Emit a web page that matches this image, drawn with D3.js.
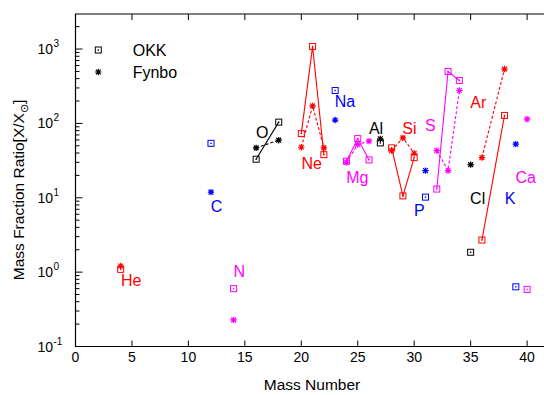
<!DOCTYPE html>
<html>
<head>
<meta charset="utf-8">
<script src="https://cdn.jsdelivr.net/npm/d3@7"></script>
<style>
  body { margin: 0; background: #fff; }
  svg { display: block; font-family: "Liberation Sans", Arial, sans-serif; }
</style>
</head>
<body>
<div id="chart"></div>
<script>
// elements: name, colour, mass numbers, OKK ratios, Fynbo ratios
const elements = ["He", "C", "N", "O", "Ne", "Na", "Mg", "Al", "Si", "P", "S", "Cl", "Ar", "K", "Ca"];
const colors   = ["red", "blue", "magenta", "black", "red", "blue", "magenta", "black", "red", "blue", "magenta", "black", "red", "blue", "magenta"];
const massNumbers = [[4], [12], [14], [16, 18], [20, 21, 22], [23], [24, 25, 26], [27], [28, 29, 30], [31], [32, 33, 34], [35], [36, 38], [39], [40]];
const okk   = [[1.09], [54], [0.60], [33, 104], [73, 1084, 38], [277], [31, 62.5, 32.3], [54.7], [46.9, 10.6, 34.7], [10.2], [13.1, 499, 378], [1.85], [2.7, 128], [0.635], [0.586]];
const fynbo = [[1.21], [11.9], [0.228], [46.9, 59.5], [47.8, 172, 46.9], [111], [30, 52, 57.7], [62], [43, 63.9, 39.7], [23.2], [43, 23.2, 277], [27.9], [34.7, 538], [52.6], [114]];
// where each element name sits (mass number, ratio)
const labelX = [4.93, 12.5, 14.5, 16.55, 20.92, 23.87, 24.96, 26.62, 29.57, 30.45, 31.43, 35.62, 35.68, 38.5, 39.87];
const labelY = [0.78, 7.8, 1.05, 77.6, 29.2, 200, 19.2, 88, 88, 6.86, 95.5, 9.84, 197, 9.84, 19.2];

const xTicks = [0, 5, 10, 15, 20, 25, 30, 35, 40, 45];
const yTicks = [-1, 0, 1, 2, 3];

const W = 544, H = 395;
const mLeft = 75.5, mTop = 14, mBottom = 346.5;

const svg = d3.select("#chart").append("svg")
    .attr("width", W)
    .attr("height", H);

const x = d3.scaleLinear().domain([0, 45]).range([mLeft, mLeft + 45 * 11.29]);
const y = d3.scaleLog().domain([0.1, 2960]).range([mBottom, mTop]);

// frame (right side falls outside the picture)
svg.append("path")
    .attr("d", `M${x(45)},${mTop}H${mLeft}V${mBottom}H${x(45)}`)
    .attr("fill", "none")
    .attr("stroke", "black")
    .attr("stroke-width", 1.2);

// x ticks, inward on bottom and top
const xt = svg.append("g");
xTicks.forEach(t => {
    xt.append("line").attr("x1", x(t)).attr("x2", x(t)).attr("y1", mBottom).attr("y2", mBottom - 6)
        .attr("stroke", "black");
    xt.append("line").attr("x1", x(t)).attr("x2", x(t)).attr("y1", mTop).attr("y2", mTop + 6)
        .attr("stroke", "black");
    if (t <= 40) {
        xt.append("text").attr("x", x(t)).attr("y", mBottom + 15)
            .attr("text-anchor", "middle").attr("font-size", 14).text(t);
    }
});

// y ticks: major at decades, minor at 2..9
const yt = svg.append("g");
yTicks.forEach(e => {
    const v = Math.pow(10, e);
    yt.append("line").attr("x1", mLeft).attr("x2", mLeft + 7).attr("y1", y(v)).attr("y2", y(v))
        .attr("stroke", "black");
    yt.append("text").attr("x", 53).attr("y", y(v) + 5)
        .attr("text-anchor", "end").attr("font-size", 14).text("10");
    yt.append("text").attr("x", 53.5).attr("y", y(v) - 2)
        .attr("font-size", 10).text(e);
    for (let k = 2; k <= 9; k++) {
        const m = k * v;
        if (m > 2960) break;
        yt.append("line").attr("x1", mLeft).attr("x2", mLeft + 4).attr("y1", y(m)).attr("y2", y(m))
            .attr("stroke", "black");
    }
});

// axis titles
svg.append("text")
    .attr("x", 312).attr("y", 390)
    .attr("text-anchor", "middle").attr("font-size", 15.5)
    .text("Mass Number");

const yl = svg.append("text")
    .attr("transform", `translate(24,190) rotate(-90)`)
    .attr("text-anchor", "middle").attr("font-size", 15.5);
yl.append("tspan").text("Mass Fraction Ratio[X/X");
yl.append("tspan").attr("font-size", 11).attr("dy", 4).text("\u2299");
yl.append("tspan").attr("dy", -4).text("]");

// markers
function square(g, px, py, color) {
    g.append("rect").attr("x", px - 3).attr("y", py - 3).attr("width", 6).attr("height", 6)
        .attr("fill", "none").attr("stroke", color).attr("stroke-width", 1);
    g.append("rect").attr("x", px - 0.7).attr("y", py - 0.7).attr("width", 1.4).attr("height", 1.4)
        .attr("fill", color);
}
function star(g, px, py, color) {
    const r = 3.2, d = 2.4;
    g.append("path")
        .attr("d", `M${px - r},${py}H${px + r}M${px},${py - r}V${py + r}` +
                   `M${px - d},${py - d}L${px + d},${py + d}M${px - d},${py + d}L${px + d},${py - d}`)
        .attr("stroke", color).attr("stroke-width", 1.2);
}

const plot = svg.append("g");
const line = d3.line().x(d => x(d[0])).y(d => y(d[1]));

elements.forEach((el, i) => {
    const c = colors[i];
    const a = massNumbers[i];
    const ok = a.map((m, j) => [m, okk[i][j]]);
    const fy = a.map((m, j) => [m, fynbo[i][j]]);
    if (a.length > 1) {
        plot.append("path").datum(ok).attr("d", line)
            .attr("fill", "none").attr("stroke", c).attr("stroke-width", 1.1);
        plot.append("path").datum(fy).attr("d", line)
            .attr("fill", "none").attr("stroke", c).attr("stroke-width", 1.1)
            .attr("stroke-dasharray", "3,2");
    }
    ok.forEach(d => square(plot, x(d[0]), y(d[1]), c));
    fy.forEach(d => star(plot, x(d[0]), y(d[1]), c));

    plot.append("text")
        .attr("x", x(labelX[i])).attr("y", y(labelY[i]) + 6)
        .attr("text-anchor", "middle").attr("font-size", 16)
        .attr("fill", c).text(el);
});

// legend
const legend = svg.append("g");
square(legend, 98.3, 50, "black");
star(legend, 98.3, 72, "black");
legend.append("text").attr("x", 132.7).attr("y", 56).attr("font-size", 16).text("OKK");
legend.append("text").attr("x", 132.7).attr("y", 78).attr("font-size", 16).text("Fynbo");
</script>
</body>
</html>
